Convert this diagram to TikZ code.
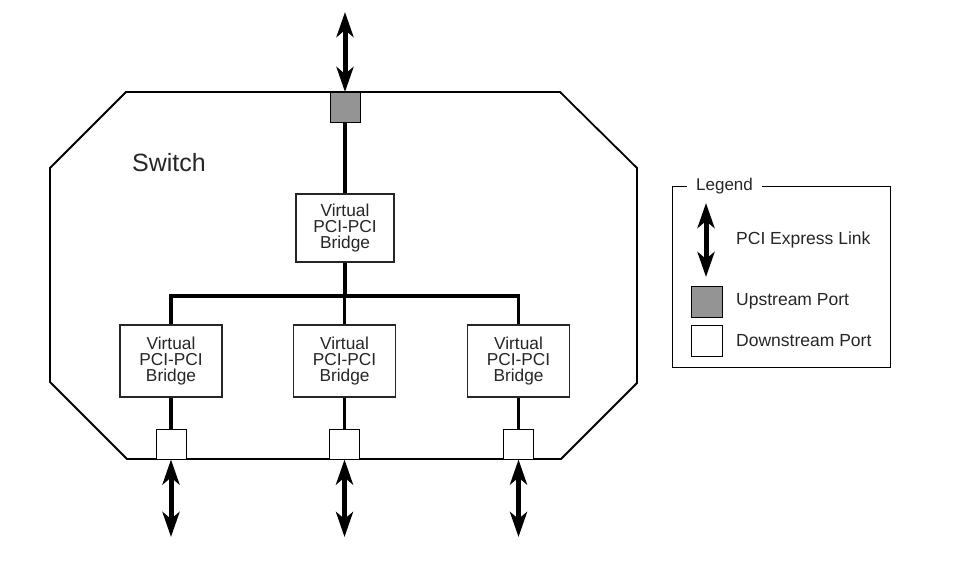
\documentclass[tikz,border=0pt]{standalone}
\usepackage{fontspec}
\setmainfont{Liberation Sans}
\usetikzlibrary{arrows.meta}
\begin{document}
\begin{tikzpicture}[x=1pt,y=-1pt,
 bridge/.style={draw=black!85, line width=1.1pt, fill=white, inner sep=0pt, align=center,
   font=\fontsize{17.3}{16.2}\selectfont, text=black!85, minimum width=102pt, minimum height=72pt},
 port/.style={draw=black, line width=1pt, minimum size=30pt, inner sep=0pt},
 upport/.style={port, fill=black!42},
 downport/.style={port, fill=white},
 bus/.style={line width=3.2pt},
 link/.style={line width=5pt, {Stealth[length=25pt,width=17pt,inset=7pt]}-{Stealth[length=25pt,width=17pt,inset=7pt]}},
 lbl/.style={font=\fontsize{17.5}{20}\selectfont, anchor=west, text=black!85, inner sep=0pt}]
\useasboundingbox (0,0) rectangle (965,581);
% switch outline
\draw[line width=1.8pt, line join=miter] (126,92) -- (560,92) -- (637,168) -- (637,383) -- (561,459)
  -- (127,459) -- (50,382) -- (50,168) -- cycle;
\node[lbl, font=\fontsize{25}{28}\selectfont] (sw) at (132,163) {Switch};
% ports
\node[upport] (up) at (345,107.5) {};
\node[downport] (p1) at (171,444) {};
\node[downport] (p2) at (344.5,444) {};
\node[downport] (p3) at (518.5,444) {};
% bridges
\node[bridge, minimum width=98pt, minimum height=68pt] (bt) at (345,228) {Virtual\\PCI-PCI\\Bridge};
\node[bridge] (b1) at (171,361) {Virtual\\PCI-PCI\\Bridge};
\node[bridge] (b2) at (344.5,361) {Virtual\\PCI-PCI\\Bridge};
\node[bridge] (b3) at (518.5,361) {Virtual\\PCI-PCI\\Bridge};
% tree
\coordinate (busy) at (0,296);
\draw[bus] (up.south) -- (bt.north);
\draw[bus] (bt.south) -- (bt.south |- busy);
\draw[bus] (b2.north |- busy) -- (b2.north);
\draw[bus, line join=miter] (b1.north) -- (b1.north |- busy) -- (b3.north |- busy) -- (b3.north);
\draw[bus] (b1.south) -- (p1.north);
\draw[bus] (b2.south) -- (p2.north);
\draw[bus] (b3.south) -- (p3.north);
% links
\coordinate (t0) at (345,12);
\draw[link] (t0) -- (up.north);
\coordinate (e1) at (171,537);
\coordinate (e2) at (344.5,537);
\coordinate (e3) at (518.5,537);
\draw[link] (p1.south) -- (e1);
\draw[link] (p2.south) -- (e2);
\draw[link] (p3.south) -- (e3);
% legend
\node[font=\fontsize{17}{20}\selectfont, text=black!85, inner sep=0pt] (lg) at (724.5,186) {Legend};
\draw[line width=1pt] ([xshift=-9pt]lg.west |- 0,186) -- (672,186) -- (672,367) -- (890,367) -- (890,186) -- ([xshift=9pt]lg.east |- 0,186);
\coordinate (la) at (706,203);
\coordinate (lb) at (706,277);
\draw[link] (la) -- (lb);
\node[upport, minimum size=31pt] (lu) at (706.5,301.5) {};
\node[downport, minimum size=31pt] (ld) at (706.5,340.5) {};
\node[lbl] (t1) at (736,240) {PCI Express Link};
\node[lbl] (t2) at (736,301) {Upstream Port};
\node[lbl] (t3) at (736,341) {Downstream Port};
\end{tikzpicture}
\end{document}
